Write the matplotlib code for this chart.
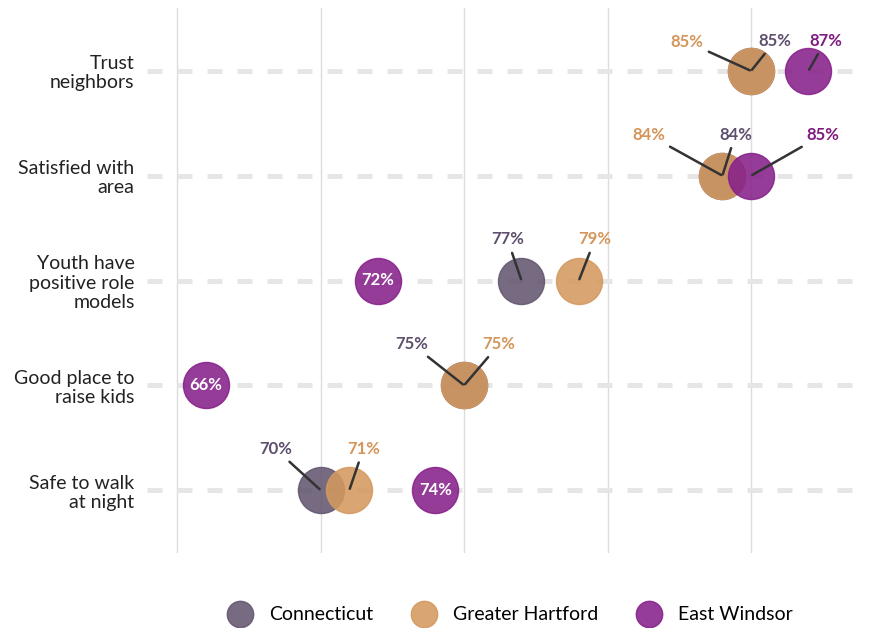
import matplotlib.pyplot as plt
from matplotlib.lines import Line2D

plt.rcParams['font.family'] = ['Lato', 'DejaVu Sans']

categories = ["Trust\nneighbors", "Satisfied with\narea", "Youth have\npositive role\nmodels",
              "Good place to\nraise kids", "Safe to walk\nat night"]
series = ["Connecticut", "Greater Hartford", "East Windsor"]
connecticut = [85, 84, 77, 75, 70]
greater_hartford = [85, 84, 79, 75, 71]
east_windsor = [87, 85, 72, 66, 74]

colors = ["#63566f", "#d4995f", "#87208a"]
label_colors = ["#5e4f6e", "#d4955a", "#7f1a80"]

# label offsets in pixels (dx, dy) per series and category; None = inside dot
offsets = {
    0: [(24, 30), (13, 41), (-14, 41), (-52, 41), (-45, 41)],
    1: [(-64, 29), (-74, 41), (16, 41), (35, 41), (14, 41)],
    2: [(17, 30), (72, 41), None, None, None],
}

fig = plt.figure(figsize=(8.71, 6.28), dpi=100)
ax = fig.add_axes([147 / 871, 75 / 628, 718 / 871, 545 / 628])

ypos = list(range(len(categories)))[::-1]

for x in [65, 70, 75, 80, 85]:
    ax.axvline(x, color="#dcdcdc", lw=1, zorder=0)
for y in ypos:
    ax.axhline(y, color="#e6e6e6", lw=3.6, dashes=(3, 3), zorder=0.5)

data = [connecticut, greater_hartford, east_windsor]
for i, vals in enumerate(data):
    ax.scatter(vals, ypos, s=1100, color=colors[i], alpha=0.88, edgecolors=colors[i],
               linewidths=1, zorder=2 + i)

for i, vals in enumerate(data):
    for j, (v, y) in enumerate(zip(vals, ypos)):
        off = offsets[i][j]
        txt = f"{v}%"
        if off is None:
            ax.text(v, y, txt, ha="center", va="center", color="white",
                    fontsize=12, fontweight="bold", zorder=10)
        else:
            ax.annotate(txt, xy=(v, y), xytext=off, textcoords="offset pixels",
                        ha="center", va="center", color=label_colors[i],
                        fontsize=12, fontweight="bold", zorder=10,
                        arrowprops=dict(arrowstyle="-", color="#333333", lw=1.8,
                                        shrinkA=2, shrinkB=1))

ax.set_xlim(63.95, 88.97)
ax.set_ylim(-0.6, 4.6)
ax.set_yticks(ypos)
ax.set_yticklabels(categories, fontsize=14, color="#222222", linespacing=1.15)
ax.tick_params(axis="y", length=0, pad=9)
ax.set_xticks([])
for s in ax.spines.values():
    s.set_visible(False)

handles = [Line2D([], [], marker="o", ls="", markersize=19, color=c, alpha=0.88) for c in colors]
ax.legend(handles, series, loc="center", bbox_to_anchor=(507 / 871, 1 - 615 / 628),
          bbox_transform=fig.transFigure, ncol=3, frameon=False, fontsize=14,
          handletextpad=0.5, columnspacing=1.6)

fig.savefig("out.png", dpi=100)
